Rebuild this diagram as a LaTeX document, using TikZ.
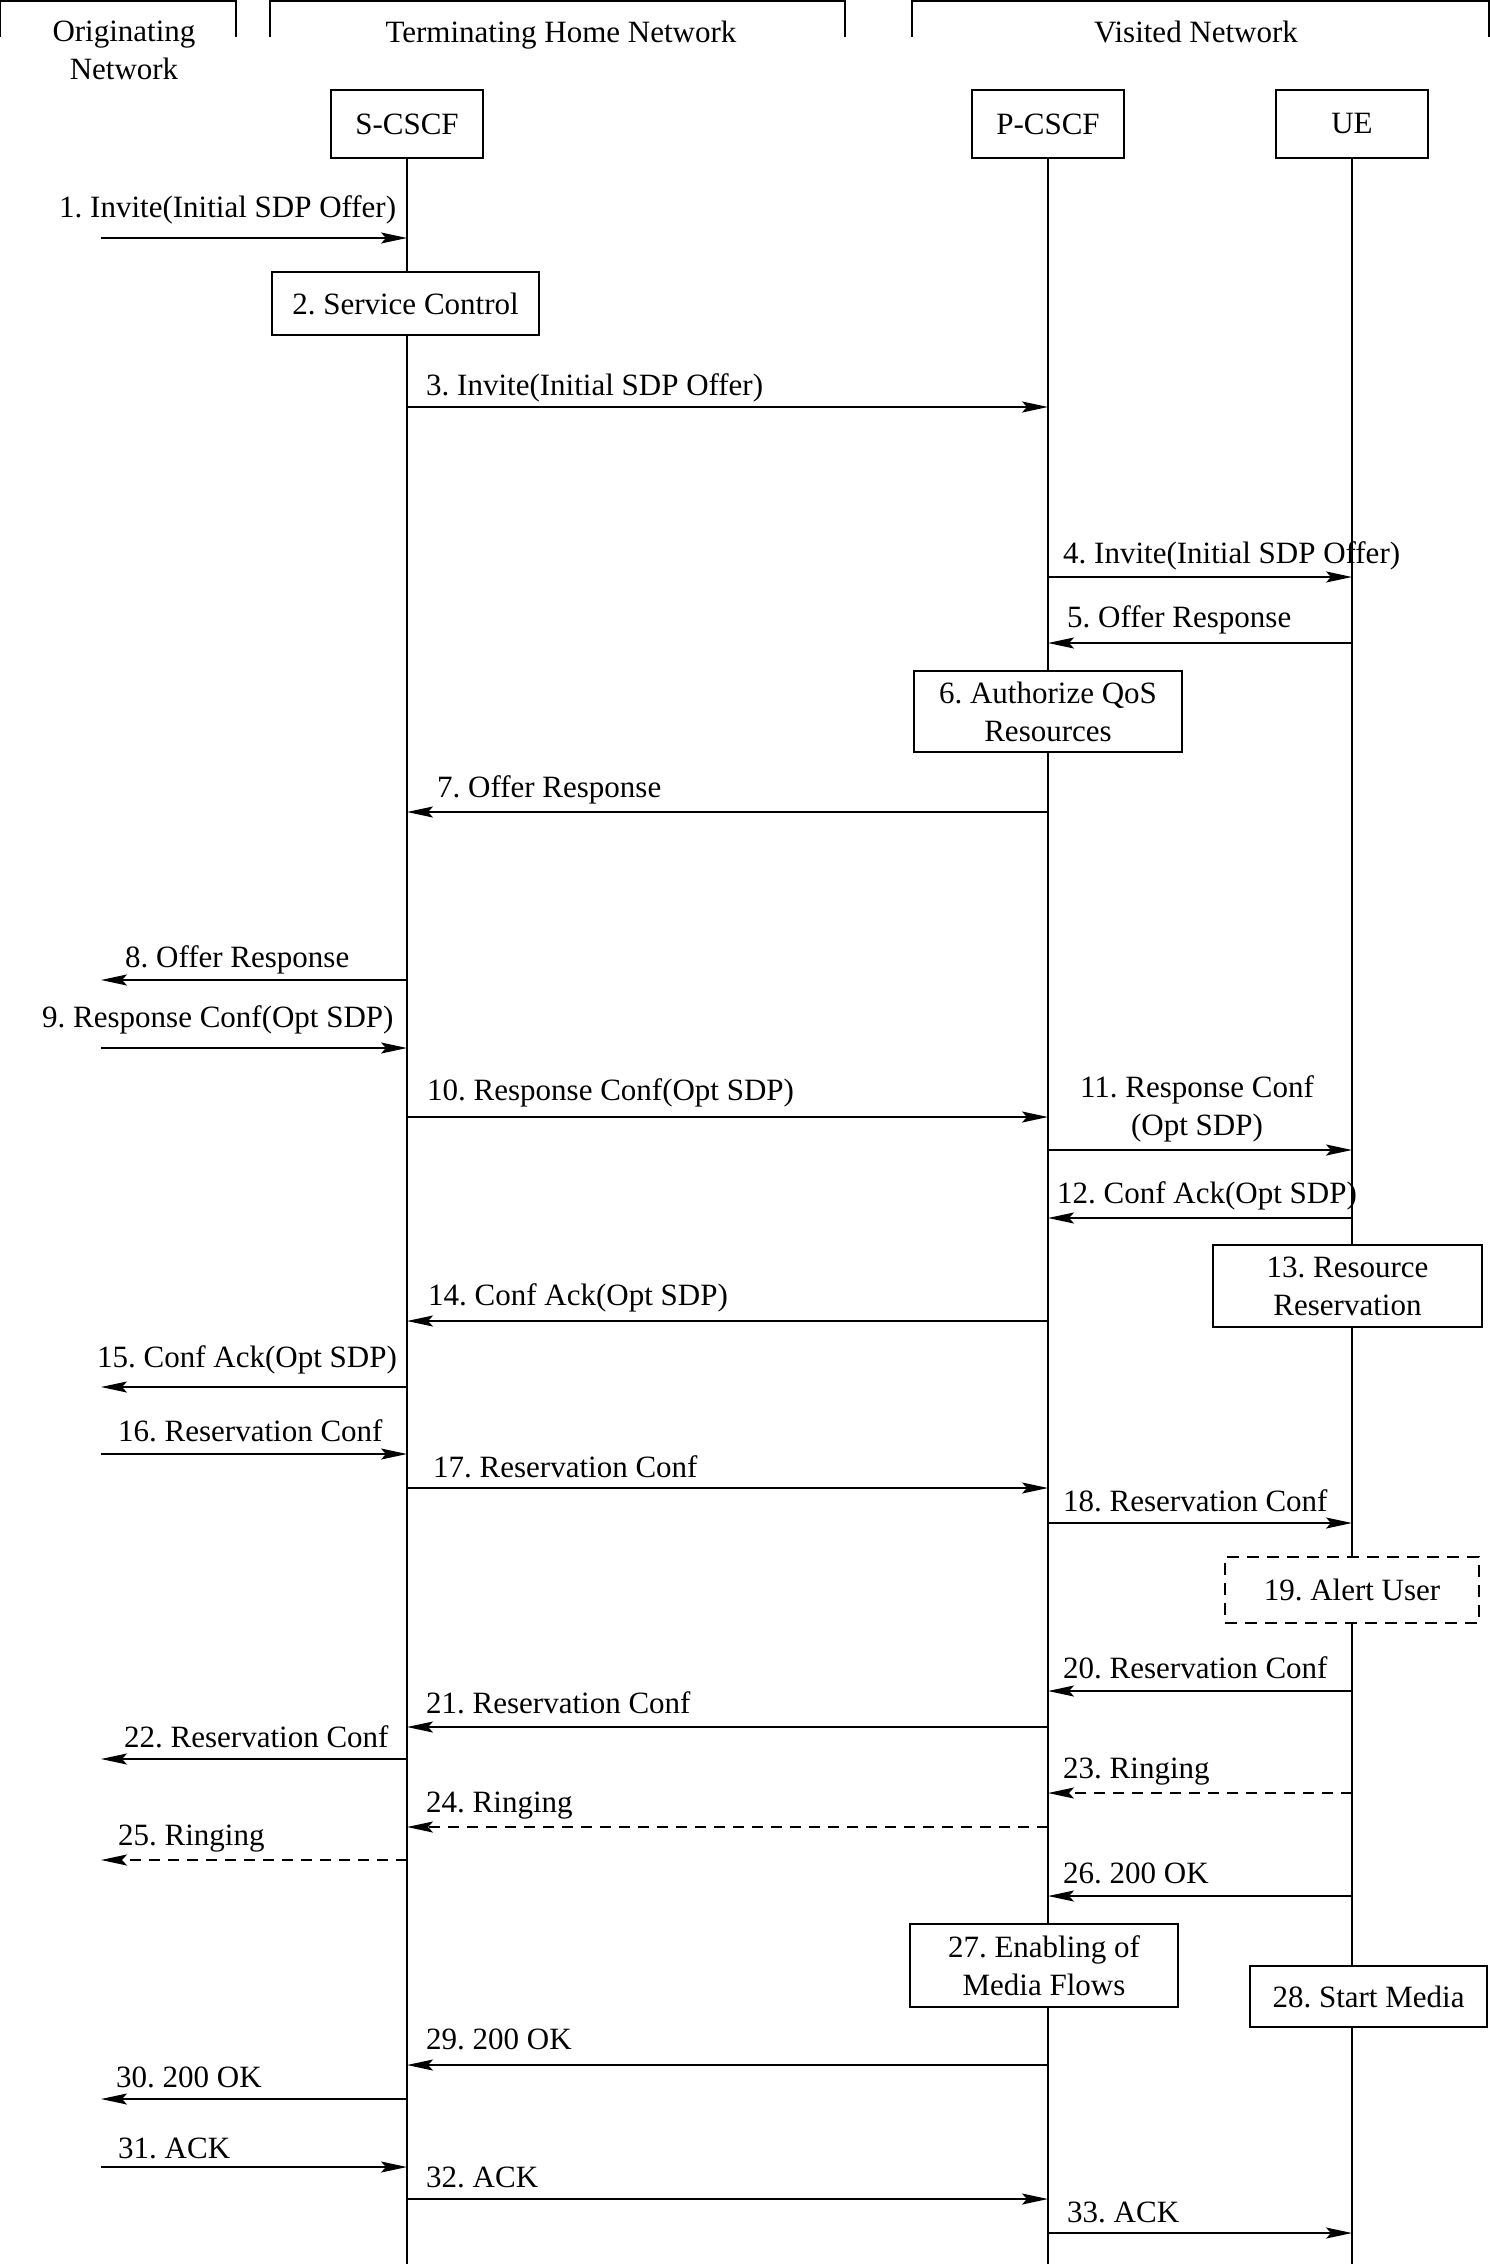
\documentclass[tikz,border=0pt]{standalone}
\usepackage{fontspec}
\setmainfont{Liberation Serif}
\usepackage{tikz}
\usetikzlibrary{arrows.meta, positioning, calc}
\frenchspacing

\begin{document}
        \begin{tikzpicture}[x=1pt, y=-1pt,
            txt/.style={font=\fontsize{31}{38}\selectfont},
            lbl/.style={txt, anchor=base west, inner sep=0pt},
            entity/.style={txt, draw, line width=2.5pt, fill=white, minimum width=152pt, minimum height=68pt},
            procbox/.style={txt, draw, line width=2.5pt, fill=white, align=center, inner sep=0pt},
            alertbox/.style={procbox, line width=2pt, dash pattern=on 12pt off 8pt},
            lifeline/.style={line width=1.4pt},
            bracket/.style={line width=2pt},
            msg/.style={line width=2pt, -{Stealth[length=26pt, width=11pt, inset=5pt]}},
            dmsg/.style={msg, dash pattern=on 11pt off 8pt}]
            \useasboundingbox (0,0) rectangle (1490,2264);
            \draw[bracket] (0,37) -- (0,1) -- (236,1) -- (236,37);
            \draw[bracket] (270,37) -- (270,1) -- (845,1) -- (845,37);
            \draw[bracket] (912,37) -- (912,1) -- (1489,1) -- (1489,37);
            \node[txt, align=center, anchor=base] (orignet) at (124,80) {Originating\\Network};
            \node[txt, anchor=base] (termnet) at (561,43) {Terminating Home Network};
            \node[txt, anchor=base] (visnet) at (1196,43) {Visited Network};
            \coordinate (orig) at (101,0);
            \node[entity] (scscf) at (407,124) {S-CSCF};
            \node[entity] (pcscf) at (1048,124) {P-CSCF};
            \node[entity] (ue) at (1352,124) {UE};
            \draw[lifeline] (scscf.south) -- (scscf.south |- 0,2264);
            \draw[lifeline] (pcscf.south) -- (pcscf.south |- 0,2264);
            \draw[lifeline] (ue.south) -- (ue.south |- 0,2264);
            \node[procbox, minimum width=267pt, minimum height=63pt] (svc) at (405.5,303.5) {2. Service Control};
            \node[procbox, minimum width=268pt, minimum height=81pt] (authqos) at (1048,711.5) {6. Authorize QoS\\Resources};
            \node[procbox, minimum width=269pt, minimum height=82pt] (resres) at (1347.5,1286) {13. Resource\\Reservation};
            \node[alertbox, minimum width=254pt, minimum height=66pt] (alert) at (1352,1590) {19. Alert User};
            \node[procbox, minimum width=268pt, minimum height=83pt] (enable) at (1044,1965.5) {27. Enabling of\\Media Flows};
            \node[procbox, minimum width=237pt, minimum height=61pt] (startmedia) at (1368.5,1996.5) {28. Start Media};
            \draw[msg] (orig |- 0,238) -- (scscf |- 0,238);
            \node[lbl] (lab1) at (59,217) {1. Invite(Initial SDP Offer)};
            \draw[msg] (scscf |- 0,407) -- (pcscf |- 0,407);
            \node[lbl] (lab3) at (426,395) {3. Invite(Initial SDP Offer)};
            \draw[msg] (pcscf |- 0,577) -- (ue |- 0,577);
            \node[lbl] (lab4) at (1063,563) {4. Invite(Initial SDP Offer)};
            \draw[msg] (ue |- 0,643) -- (pcscf |- 0,643);
            \node[lbl] (lab5) at (1067,627) {5. Offer Response};
            \draw[msg] (pcscf |- 0,812) -- (scscf |- 0,812);
            \node[lbl] (lab7) at (437,797) {7. Offer Response};
            \draw[msg] (scscf |- 0,980) -- (orig |- 0,980);
            \node[lbl] (lab8) at (125,967) {8. Offer Response};
            \draw[msg] (orig |- 0,1048) -- (scscf |- 0,1048);
            \node[lbl] (lab9) at (42,1027) {9. Response Conf(Opt SDP)};
            \draw[msg] (scscf |- 0,1117) -- (pcscf |- 0,1117);
            \node[lbl] (lab10) at (427,1100) {10. Response Conf(Opt SDP)};
            \draw[msg] (pcscf |- 0,1150) -- (ue |- 0,1150);
            \node[txt, align=center, anchor=base, inner sep=0pt] (lab11) at (1197,1135) {11. Response Conf\\(Opt SDP)};
            \draw[msg] (ue |- 0,1218) -- (pcscf |- 0,1218);
            \node[lbl] (lab12) at (1057,1203) {12. Conf Ack(Opt SDP)};
            \draw[msg] (pcscf |- 0,1321) -- (scscf |- 0,1321);
            \node[lbl] (lab14) at (428,1305) {14. Conf Ack(Opt SDP)};
            \draw[msg] (scscf |- 0,1387) -- (orig |- 0,1387);
            \node[lbl] (lab15) at (97,1367) {15. Conf Ack(Opt SDP)};
            \draw[msg] (orig |- 0,1454) -- (scscf |- 0,1454);
            \node[lbl] (lab16) at (118,1441) {16. Reservation Conf};
            \draw[msg] (scscf |- 0,1488) -- (pcscf |- 0,1488);
            \node[lbl] (lab17) at (433,1477) {17. Reservation Conf};
            \draw[msg] (pcscf |- 0,1523) -- (ue |- 0,1523);
            \node[lbl] (lab18) at (1063,1511) {18. Reservation Conf};
            \draw[msg] (ue |- 0,1691) -- (pcscf |- 0,1691);
            \node[lbl] (lab20) at (1063,1678) {20. Reservation Conf};
            \draw[msg] (pcscf |- 0,1727) -- (scscf |- 0,1727);
            \node[lbl] (lab21) at (426,1713) {21. Reservation Conf};
            \draw[msg] (scscf |- 0,1759) -- (orig |- 0,1759);
            \node[lbl] (lab22) at (124,1747) {22. Reservation Conf};
            \draw[dmsg] (ue |- 0,1793) -- (pcscf |- 0,1793);
            \node[lbl] (lab23) at (1063,1778) {23. Ringing};
            \draw[dmsg] (pcscf |- 0,1827) -- (scscf |- 0,1827);
            \node[lbl] (lab24) at (426,1812) {24. Ringing};
            \draw[dmsg] (scscf |- 0,1860) -- (orig |- 0,1860);
            \node[lbl] (lab25) at (118,1845) {25. Ringing};
            \draw[msg] (ue |- 0,1896) -- (pcscf |- 0,1896);
            \node[lbl] (lab26) at (1063,1883) {26. 200 OK};
            \draw[msg] (pcscf |- 0,2065) -- (scscf |- 0,2065);
            \node[lbl] (lab29) at (426,2049) {29. 200 OK};
            \draw[msg] (scscf |- 0,2099) -- (orig |- 0,2099);
            \node[lbl] (lab30) at (116,2087) {30. 200 OK};
            \draw[msg] (orig |- 0,2167) -- (scscf |- 0,2167);
            \node[lbl] (lab31) at (118,2158) {31. ACK};
            \draw[msg] (scscf |- 0,2199) -- (pcscf |- 0,2199);
            \node[lbl] (lab32) at (426,2187) {32. ACK};
            \draw[msg] (pcscf |- 0,2233) -- (ue |- 0,2233);
            \node[lbl] (lab33) at (1067,2222) {33. ACK};
        \end{tikzpicture}
\end{document}
